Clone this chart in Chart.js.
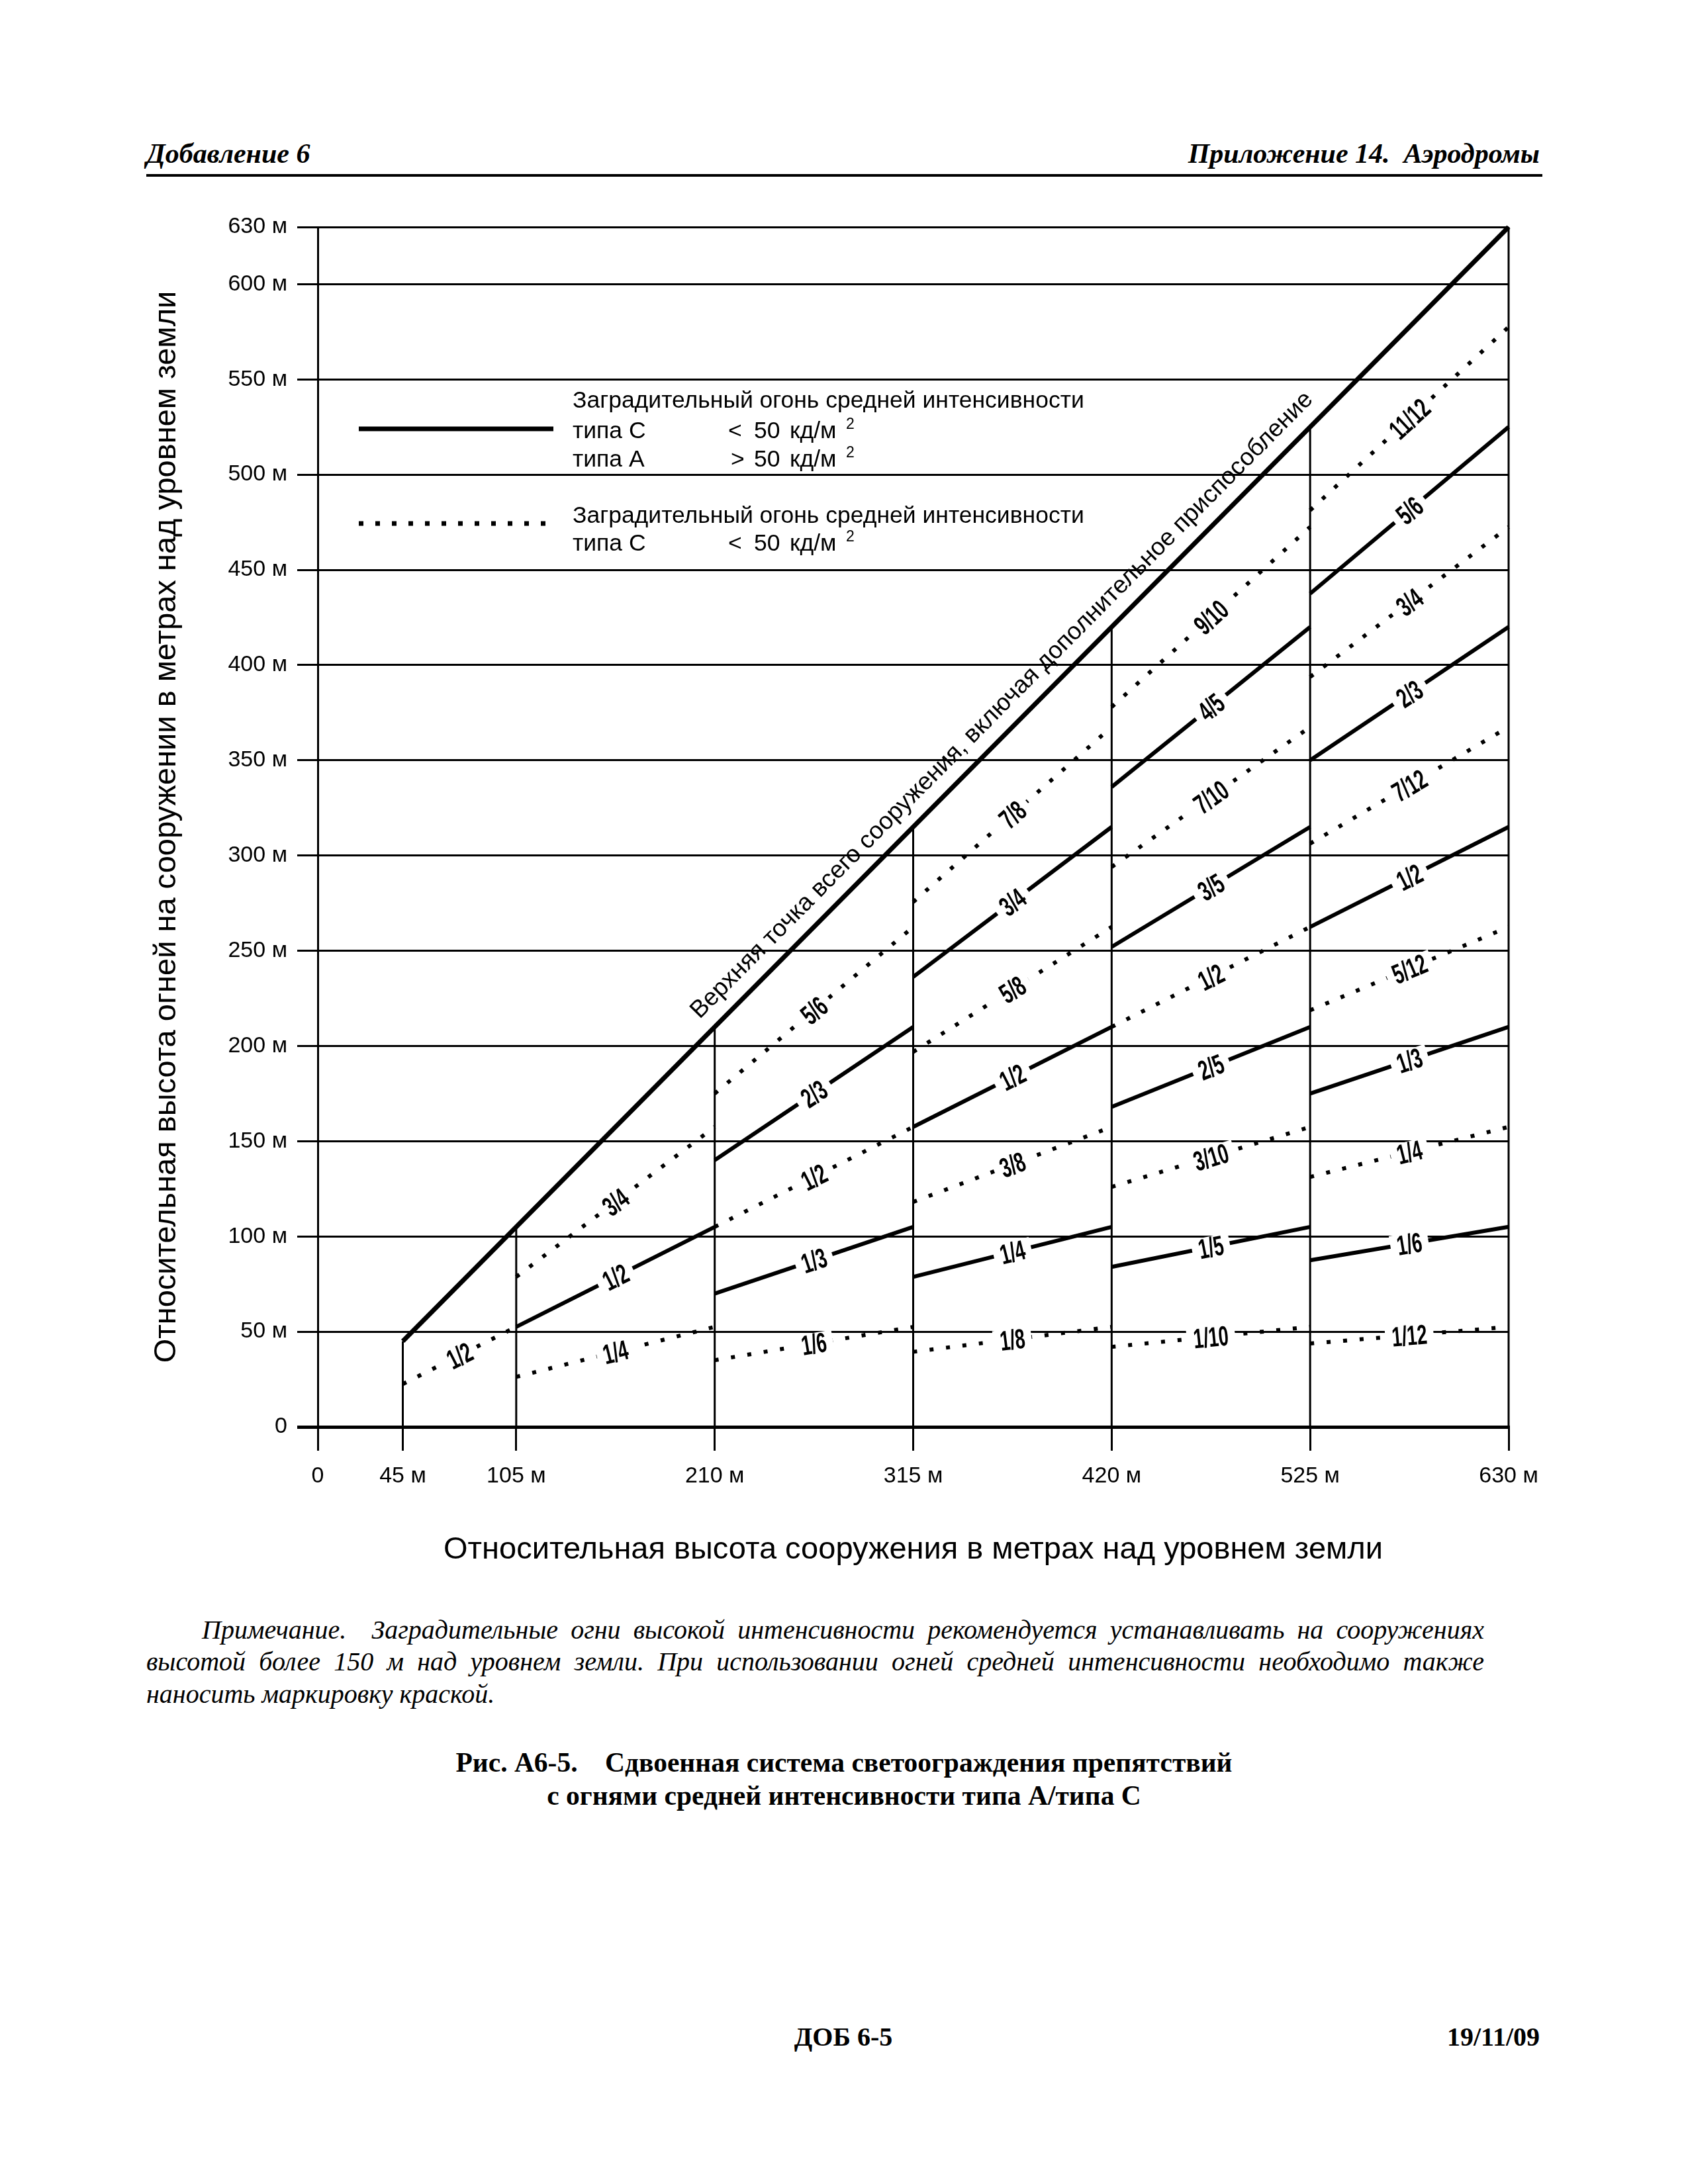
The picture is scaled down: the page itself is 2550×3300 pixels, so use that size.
<!DOCTYPE html>
<html>
<head>
<meta charset="utf-8">
<script src="https://cdn.jsdelivr.net/npm/chart.js@4/dist/chart.umd.min.js"></script>
<style>
html,body{margin:0;padding:0;background:#fff;}
body{width:2550px;height:3300px;position:relative;overflow:hidden;}
#c{position:absolute;left:0;top:0;}
.t{position:absolute;color:#000;font-family:"Liberation Serif","Times New Roman",serif;white-space:pre;}
.hd{font-size:42px;line-height:50px;font-weight:bold;font-style:italic;}
.note{font-size:40px;line-height:48px;font-style:italic;}
.just{text-align:justify;text-align-last:justify;}
.cap{font-size:41.5px;line-height:48px;font-weight:bold;text-align:center;left:0;width:2550px;}
</style>
</head>
<body>
<div class="t hd" style="left:221px;top:207px;">Добавление 6</div>
<div class="t hd" style="left:1326px;width:1000px;text-align:right;top:207px;">Приложение 14.  Аэродромы</div>
<div style="position:absolute;left:221px;top:263px;width:2109px;height:4px;background:#000;"></div>

<canvas id="c" width="2550" height="2420"></canvas>

<div class="t note just" style="left:305px;width:1937px;top:2439px;">Примечание.  Заградительные огни высокой интенсивности рекомендуется устанавливать на сооружениях</div>
<div class="t note just" style="left:221px;width:2021px;top:2487px;">высотой более 150 м над уровнем земли. При использовании огней средней интенсивности необходимо также</div>
<div class="t note" style="left:221px;top:2536px;">наносить маркировку краской.</div>

<div class="t cap" style="top:2639px;">Рис. А6-5.    Сдвоенная система светоограждения препятствий</div>
<div class="t cap" style="top:2689px;">с огнями средней интенсивности типа А/типа С</div>

<div class="t cap" style="top:3054px;left:0;width:2548px;font-size:40px;">ДОБ 6-5</div>
<div class="t hd" style="font-style:normal;font-size:40px;left:1326px;width:1000px;text-align:right;top:3053px;">19/11/09</div>

<script>
// ---- data ----
const xTickValues = [0, 45, 105, 210, 315, 420, 525, 630];
const yTickValues = [0, 50, 100, 150, 200, 250, 300, 350, 400, 450, 500, 550, 600, 630];

// top of the whole structure (diagonal)
const topLineX = [45, 630];
const topLineY = [45, 630];

// vertical structure-height lines
const verticalX = [45, 105, 210, 315, 420, 525, 630];
const verticalTop = [45, 105, 210, 315, 420, 525, 630];

// solid segments (medium intensity type C < 50 cd/m2, type A > 50 cd/m2)
const solidLabels = ['1/2', '2/3', '1/3', '3/4', '1/2', '1/4', '4/5', '3/5', '2/5', '1/5', '5/6', '2/3', '1/2', '1/3', '1/6'];
const solidX0 = [105, 210, 210, 315, 315, 315, 420, 420, 420, 420, 525, 525, 525, 525, 525];
const solidX1 = [210, 315, 315, 420, 420, 420, 525, 525, 525, 525, 630, 630, 630, 630, 630];
const solidY0 = [52.5, 140, 70, 236.25, 157.5, 78.75, 336, 252, 168, 84, 437.5, 350, 262.5, 175, 87.5];
const solidY1 = [105, 210, 105, 315, 210, 105, 420, 315, 210, 105, 525, 420, 315, 210, 105];

// dotted segments (medium intensity type C < 50 cd/m2)
const dottedLabels = ['1/2', '3/4', '1/4', '5/6', '1/2', '1/6', '7/8', '5/8', '3/8', '1/8', '9/10', '7/10', '1/2', '3/10', '1/10', '11/12', '3/4', '7/12', '5/12', '1/4', '1/12'];
const dottedX0 = [45, 105, 105, 210, 210, 210, 315, 315, 315, 315, 420, 420, 420, 420, 420, 525, 525, 525, 525, 525, 525];
const dottedX1 = [105, 210, 210, 315, 315, 315, 420, 420, 420, 420, 525, 525, 525, 525, 525, 630, 630, 630, 630, 630, 630];
const dottedY0 = [22.5, 78.75, 26.25, 175, 105, 35, 275.6, 196.9, 118.1, 39.4, 378, 294, 210, 126, 42, 481.25, 393.75, 306.25, 218.75, 131.25, 43.75];
const dottedY1 = [52.5, 157.5, 52.5, 262.5, 157.5, 52.5, 367.5, 262.5, 157.5, 52.5, 472.5, 367.5, 262.5, 157.5, 52.5, 577.5, 472.5, 367.5, 262.5, 157.5, 52.5];

const diagonalText = 'Верхняя точка всего сооружения, включая дополнительное приспособление';
const diagonalTextStart = 208;
const xTitle = 'Относительная высота сооружения в метрах над уровнем земли';
const yTitle = 'Относительная высота огней на сооружении в метрах над уровнем земли';
const legendHeading = 'Заградительный огонь средней интенсивности';

// ---- build datasets ----
const SANS = "'Liberation Sans', Arial, sans-serif";
const datasets = [];
function line(x0, y0, x1, y1, width, dash) {
  return {
    data: [{x: x0, y: y0}, {x: x1, y: y1}],
    showLine: true, pointRadius: 0, borderColor: '#000', backgroundColor: '#000',
    borderWidth: width, borderDash: dash || [], borderCapStyle: 'butt', clip: false
  };
}
verticalX.forEach((x, i) => datasets.push(line(x, 0, x, verticalTop[i], 3)));
datasets.push(line(topLineX[0], topLineY[0], topLineX[1], topLineY[1], 7));
solidLabels.forEach((l, i) => datasets.push(line(solidX0[i], solidY0[i], solidX1[i], solidY1[i], 6)));
dottedLabels.forEach((l, i) => datasets.push(line(dottedX0[i], dottedY0[i], dottedX1[i], dottedY1[i], 6, [6, 19])));

const labelPlugin = {
  id: 'segLabels',
  afterDatasetsDraw(chart) {
    const ctx = chart.ctx, xs = chart.scales.x, ys = chart.scales.y;
    function drawLabel(text, x0, y0, x1, y1) {
      const px0 = xs.getPixelForValue(x0), py0 = ys.getPixelForValue(y0);
      const px1 = xs.getPixelForValue(x1), py1 = ys.getPixelForValue(y1);
      const mx = (px0 + px1) / 2, my = (py0 + py1) / 2;
      const ang = Math.atan2(py1 - py0, px1 - px0);
      ctx.save();
      ctx.translate(mx, my);
      ctx.rotate(ang);
      ctx.font = "bold 42px " + SANS;
      const sx = 0.65;
      const w = ctx.measureText(text).width * sx;
      ctx.fillStyle = '#fff';
      ctx.fillRect(-w / 2 - 10, -16, w + 20, 32);
      ctx.scale(sx, 1);
      ctx.fillStyle = '#000';
      ctx.textAlign = 'center';
      ctx.textBaseline = 'alphabetic';
      ctx.fillText(text, 0, 15);
      ctx.restore();
    }
    solidLabels.forEach((l, i) => drawLabel(l, solidX0[i], solidY0[i], solidX1[i], solidY1[i]));
    dottedLabels.forEach((l, i) => drawLabel(l, dottedX0[i], dottedY0[i], dottedX1[i], dottedY1[i]));

    // diagonal caption
    const ax = xs.getPixelForValue(topLineX[0]), ay = ys.getPixelForValue(topLineY[0]);
    const bx = xs.getPixelForValue(topLineX[1]), by = ys.getPixelForValue(topLineY[1]);
    const ang = Math.atan2(by - ay, bx - ax);
    ctx.save();
    ctx.translate(xs.getPixelForValue(diagonalTextStart), ys.getPixelForValue(diagonalTextStart));
    ctx.rotate(ang);
    ctx.font = "37px " + SANS;
    ctx.fillStyle = '#000';
    ctx.textAlign = 'left';
    ctx.textBaseline = 'alphabetic';
    ctx.fillText(diagonalText, 0, -24);
    ctx.restore();
  },
  afterDraw(chart) {
    const ctx = chart.ctx;
    ctx.save();
    // legend samples
    ctx.strokeStyle = '#000';
    ctx.lineCap = 'butt';
    ctx.lineWidth = 7;
    ctx.setLineDash([]);
    ctx.beginPath(); ctx.moveTo(542, 648); ctx.lineTo(836, 648); ctx.stroke();
    ctx.setLineDash([7, 18]);
    ctx.beginPath(); ctx.moveTo(542, 791); ctx.lineTo(830, 791); ctx.stroke();
    ctx.setLineDash([]);
    ctx.fillStyle = '#000';
    ctx.textBaseline = 'middle';
    ctx.textAlign = 'left';
    function row(y, a, sign) {
      ctx.font = "35.5px " + SANS;
      ctx.fillText(a, 865, y);
      if (sign) {
        ctx.fillText(sign, sign === '<' ? 1100 : 1104, y);
        ctx.fillText('50', 1139, y);
        ctx.fillText('кд/м', 1193, y);
        ctx.font = "23px " + SANS;
        ctx.fillText('2', 1278, y - 10);
      }
    }
    row(606, legendHeading);
    row(652, 'типа С', '<');
    row(695, 'типа А', '>');
    row(780, legendHeading);
    row(822, 'типа С', '<');
    ctx.restore();
  }
};

new Chart(document.getElementById('c').getContext('2d'), {
  type: 'scatter',
  data: {datasets},
  options: {
    responsive: false,
    animation: false,
    devicePixelRatio: 1,
    events: [],
    layout: {padding: {left: 0, right: 271, top: 343, bottom: 44}},
    plugins: {legend: {display: false}, tooltip: {enabled: false}},
    scales: {
      x: {
        type: 'linear', min: 0, max: 630,
        afterBuildTicks: s => { s.ticks = xTickValues.map(v => ({value: v})); },
        afterFit: s => { s.height = 220; },
        ticks: {autoSkip: false, maxRotation: 0, padding: 18, color: '#000',
          font: {family: SANS, size: 34},
          callback: v => v === 0 ? '0' : v + ' м'},
        grid: {drawOnChartArea: false, drawTicks: true, tickLength: 36, color: '#000', lineWidth: 3},
        border: {display: true, color: '#000', width: 5},
        title: {display: true, text: xTitle, color: '#000', font: {family: SANS, size: 47}, padding: {top: 0, bottom: 6}}
      },
      y: {
        type: 'linear', min: 0, max: 630,
        afterBuildTicks: s => { s.ticks = yTickValues.map(v => ({value: v})); },
        afterFit: s => { s.width = 480; },
        ticks: {autoSkip: false, padding: 15, color: '#000',
          font: {family: SANS, size: 34},
          callback: v => v === 0 ? '0' : v + ' м'},
        grid: {drawTicks: true, tickLength: 31, color: '#000',
          lineWidth: c => (c.tick && c.tick.value === 0) ? 5 : 3},
        border: {display: true, color: '#000', width: 3},
        title: {display: true, text: yTitle, color: '#000', font: {family: SANS, size: 47}, padding: {top: 224, bottom: 0}}
      }
    }
  },
  plugins: [labelPlugin]
});
</script>
</body>
</html>
